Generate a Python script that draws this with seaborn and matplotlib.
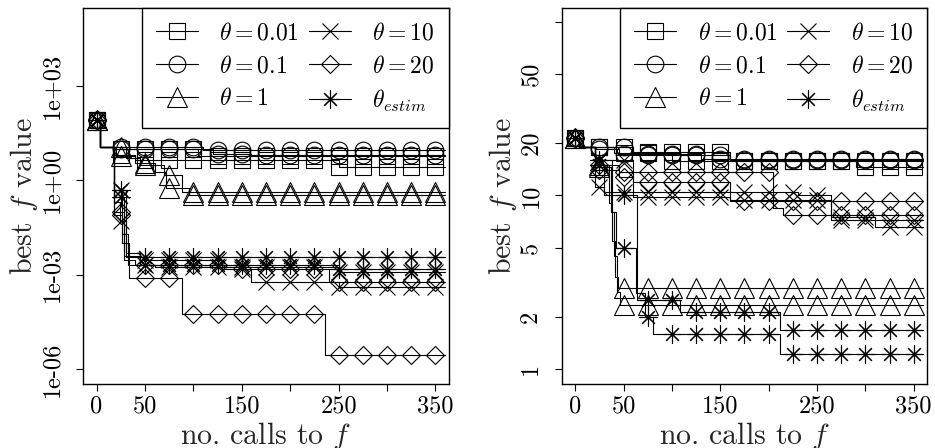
import numpy as np
import seaborn as sns
import matplotlib.pyplot as plt
from matplotlib.lines import Line2D

# best f value found so far, 2 runs per theta.
# *_calls = call counts where the best value improved, *_best = the new best value
# left panel
L_001_calls = [[0, 4, 18, 105], [0, 4, 18, 40, 250]]
L_001_best = [[81, 11.5, 9.5, 6.0], [81, 11.5, 6.5, 4.4, 2.7]]
L_01_calls = [[0, 4, 18, 110], [0, 4, 18, 120, 160]]
L_01_best = [[81, 11.5, 11, 9.1], [81, 11.5, 10, 7, 6.3]]
L_1_calls = [[0, 4, 18, 30, 45, 70, 88], [0, 4, 20, 40, 60, 72, 95]]
L_1_best = [[81, 11.5, 11, 5, 3, 1.5, 0.41], [81, 11.5, 6, 3.5, 1.8, 0.56, 0.34]]
L_10_calls = [[0, 4, 18, 24, 30, 45, 130, 160, 250], [0, 4, 18, 26, 32, 60, 250]]
L_10_best = [[81, 11.5, 0.2, 0.05, 5e-3, 3e-3, 1.5e-3, 6e-4, 4.2e-4],
             [81, 11.5, 0.5, 0.02, 2e-3, 1.7e-3, 1.2e-3]]
L_20_calls = [[0, 4, 18, 26, 34, 88, 236], [0, 4, 18, 28, 40, 150, 240]]
L_20_best = [[81, 11.5, 0.08, 0.01, 7.8e-4, 5.5e-5, 2.8e-6],
             [81, 11.5, 0.1, 3e-3, 2e-3, 1.5e-3, 6e-4]]
L_est_calls = [[0, 4, 18, 30], [0, 4, 18, 28, 45, 250]]
L_est_best = [[81, 11.5, 0.5, 3.7e-3], [81, 11.5, 0.3, 4e-3, 2e-3, 1.5e-3]]

# right panel
R_001_calls = [[0, 4, 60, 160], [0, 4, 40, 100, 290]]
R_001_best = [[21.3, 19.0, 17.9, 15.7], [21.3, 19.0, 17.5, 15.8, 14.5]]
R_01_calls = [[0, 4, 60, 160], [0, 4, 22, 45, 130]]
R_01_best = [[21.3, 19.0, 17.1, 16.0], [21.3, 19.0, 18.5, 17.3, 16.2]]
R_1_calls = [[0, 4, 20, 35, 38, 41, 44], [0, 4, 20, 37, 40, 43, 46]]
R_1_best = [[21.3, 19.0, 15.0, 9.0, 5.5, 3.4, 2.95], [21.3, 19.0, 14.5, 8.0, 4.5, 2.8, 2.35]]
R_10_calls = [[0, 4, 20, 30, 230, 265, 310], [0, 4, 20, 60, 160, 265]]
R_10_best = [[21.3, 19.0, 11.2, 10.5, 10.1, 7.5, 6.6], [21.3, 19.0, 16, 9.85, 9.4, 7.2]]
R_20_calls = [[0, 4, 20, 45, 205, 215], [0, 4, 20, 45, 60, 160]]
R_20_best = [[21.3, 19.0, 15, 13.7, 8.5, 7.7], [21.3, 19.0, 14, 12.8, 12.0, 9.3]]
R_est_calls = [[0, 4, 20, 38, 42, 63, 72, 80, 212], [0, 4, 20, 30, 64, 108, 212]]
R_est_best = [[21.3, 19.0, 16, 8, 5.0, 2.75, 2.0, 1.59, 1.22],
              [21.3, 19.0, 15, 10, 2.5, 2.14, 1.68]]

N_CALLS = 360
marker_calls = list(range(0, 351, 25))

theta_labels = [r"$\theta = 0.01$", r"$\theta = 0.1$", r"$\theta = 1$",
                r"$\theta = 10$", r"$\theta = 20$", r"$\theta_{estim}$"]
theta_markers = ["s", "o", "^", "x", "D", (8, 2, 0)]
marker_sizes = [11, 12, 14, 11, 9.5, 13]

sns.set_style("ticks")
plt.rcParams["font.family"] = "cmr10"
plt.rcParams["mathtext.fontset"] = "cm"
plt.rcParams["axes.unicode_minus"] = False
plt.rcParams["axes.edgecolor"] = "black"
plt.rcParams["axes.linewidth"] = 1.0
plt.rcParams["text.color"] = "black"
plt.rcParams["xtick.color"] = "black"
plt.rcParams["ytick.color"] = "black"


def best_at(calls, best, c):
    i = np.searchsorted(calls, c, side="right") - 1
    return best[i]


def draw_panel(ax, all_calls, all_best):
    ax.set_yscale("log")
    for k in range(len(all_calls)):
        for calls, best in zip(all_calls[k], all_best[k]):
            sns.lineplot(x=calls + [N_CALLS], y=best + [best[-1]], ax=ax,
                         color="black", lw=0.8, drawstyle="steps-post",
                         estimator=None, sort=False)
            mk = [best_at(calls, best, c) for c in marker_calls]
            sns.lineplot(x=marker_calls, y=mk, ax=ax, color="black", linestyle="",
                         marker=theta_markers[k], markersize=marker_sizes[k],
                         markerfacecolor="none", markeredgecolor="black",
                         markeredgewidth=0.8, estimator=None, sort=False)
    ax.set_xlim(-14, 364)
    ax.set_xticks(range(0, 351, 50))
    ax.set_xticklabels(["0", "50", "", "150", "", "250", "", "350"])
    ax.minorticks_off()
    ax.tick_params(direction="out", length=5, width=0.8, labelsize=17.5)
    ax.tick_params(axis="x", pad=3)
    ax.tick_params(axis="y", pad=9)
    ax.set_xlabel(r"no. calls to $f$", fontsize=21.5)
    ax.set_ylabel(r"best $f$ value", fontsize=21.5)
    ax.xaxis.set_label_coords(0.5, -0.095)
    ax.yaxis.set_label_coords(-0.118, 0.5)
    handles = [Line2D([], [], color="black", lw=0.8, marker=m, markersize=s,
                      markerfacecolor="none", markeredgecolor="black", markeredgewidth=0.8)
               for m, s in zip(theta_markers, marker_sizes)]
    leg = ax.legend(handles, theta_labels, ncol=2, loc="upper right", borderaxespad=0,
                    fontsize=17, handlelength=1.8, handletextpad=0.9, columnspacing=0.4,
                    borderpad=0.6, labelspacing=0.45, fancybox=False, framealpha=1,
                    edgecolor="black")
    leg.get_frame().set_linewidth(1.0)


fig = plt.figure(figsize=(9.35, 4.48), dpi=100)
ax1 = fig.add_axes([0.0888, 0.143, 0.3914, 0.839])
ax2 = fig.add_axes([0.6007, 0.143, 0.391, 0.839])

draw_panel(ax1, [L_001_calls, L_01_calls, L_1_calls, L_10_calls, L_20_calls, L_est_calls],
           [L_001_best, L_01_best, L_1_best, L_10_best, L_20_best, L_est_best])
ax1.set_ylim(10 ** -6.47, 10 ** 5.47)
ax1.set_yticks([1e3, 1, 1e-3, 1e-6])
ax1.set_yticklabels(["1e+03", "1e+00", "1e-03", "1e-06"], rotation=90, va="center")
ax1.minorticks_off()

draw_panel(ax2, [R_001_calls, R_01_calls, R_1_calls, R_10_calls, R_20_calls, R_est_calls],
           [R_001_best, R_01_best, R_1_best, R_10_best, R_20_best, R_est_best])
ax2.set_ylim(10 ** -0.085, 10 ** 2.079)
ax2.set_yticks([1, 2, 5, 10, 20, 50, 100])
ax2.set_yticklabels(["1", "2", "5", "10", "20", "50", ""], rotation=90, va="center")
ax2.minorticks_off()

fig.savefig("out.png", dpi=100)
